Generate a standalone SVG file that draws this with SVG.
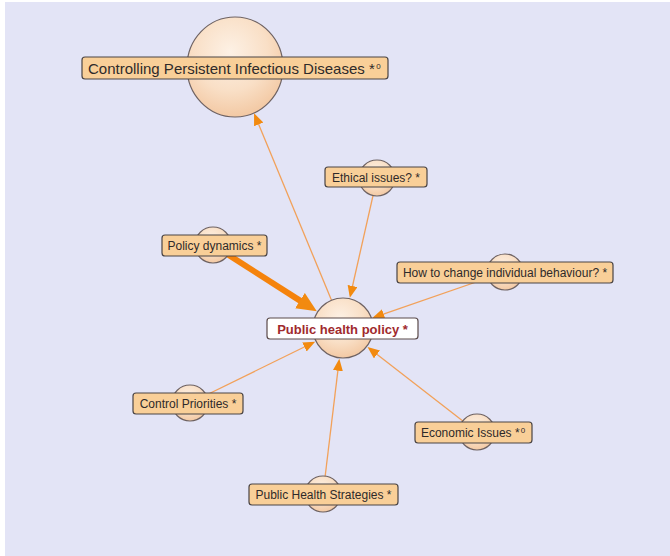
<svg xmlns="http://www.w3.org/2000/svg" width="670" height="556" viewBox="0 0 670 556">
  <defs>
    <radialGradient id="ball" cx="45%" cy="35%" r="65%">
      <stop offset="0" stop-color="#fdf1e5"/>
      <stop offset="0.6" stop-color="#f9dfc6"/>
      <stop offset="1" stop-color="#f3c9a4"/>
    </radialGradient>
    <marker id="arr" markerUnits="userSpaceOnUse" markerWidth="13" markerHeight="11" refX="1" refY="5" orient="auto">
      <path d="M0,0 L12,5 L0,10 z" fill="#f28a10"/>
    </marker>
    <marker id="arrBig" markerUnits="userSpaceOnUse" markerWidth="21" markerHeight="19" refX="1" refY="9" orient="auto">
      <path d="M0,0 L20,9 L0,18 z" fill="#f28a10"/>
    </marker>
    <style>
      .ball { fill: url(#ball); stroke: #6e6262; stroke-width: 1.2; }
      .tag { fill: #f9cf98; stroke: #4a4444; stroke-width: 1.2; }
      .lbl { font-family: "Liberation Sans", Arial, sans-serif; font-size: 12px; fill: #2e2a2a; text-anchor: middle; }
      .big { font-size: 15px; text-anchor: start; }
      .sup { font-size: 8px; }
      .link { stroke: #f2a15a; stroke-width: 1.3; fill: none; marker-end: url(#arr); }
    </style>
  </defs>

  <!-- canvas -->
  <rect x="0" y="0" width="670" height="556" fill="#ffffff"/>
  <rect x="5" y="2" width="665" height="554" fill="#e3e4f6"/>

  <!-- connectors -->
  <g id="connectors">
    <line class="link" x1="343" y1="328" x2="258.3" y2="123.4"/>
    <line class="link" x1="377" y1="178" x2="352.3" y2="287.0"/>
    <line x1="213" y1="245" x2="300.8" y2="301.1" stroke="#f5830c" stroke-width="6" marker-end="url(#arrBig)"/>
    <line class="link" x1="505" y1="272" x2="382.7" y2="314.3"/>
    <line class="link" x1="190" y1="403" x2="305.3" y2="346.5"/>
    <line class="link" x1="477" y1="432" x2="376.2" y2="353.8" stroke="#f0903a" stroke-width="2"/>
    <line class="link" x1="323" y1="494" x2="338.0" y2="369.7"/>
  </g>

  <!-- nodes -->
  <g id="node-controlling">
    <ellipse class="ball" cx="235" cy="67" rx="48" ry="50"/>
    <rect class="tag" x="82" y="57" width="306" height="22" rx="3"/>
    <text class="lbl big" x="88" y="73.5">Controlling Persistent Infectious Diseases *<tspan class="sup" dx="1.5" dy="-5">0</tspan></text>
  </g>

  <g id="node-ethical">
    <circle class="ball" cx="377" cy="178" r="18"/>
    <rect class="tag" x="325" y="167" width="102" height="20" rx="3"/>
    <text class="lbl" x="376" y="181.5">Ethical issues? *</text>
  </g>

  <g id="node-policy-dynamics">
    <circle class="ball" cx="213" cy="245" r="18"/>
    <rect class="tag" x="162" y="235" width="105" height="21" rx="3"/>
    <text class="lbl" x="214.5" y="250">Policy dynamics *</text>
  </g>

  <g id="node-behaviour">
    <circle class="ball" cx="505" cy="272" r="18"/>
    <rect class="tag" x="397" y="262" width="216" height="21" rx="3"/>
    <text class="lbl" x="505" y="277">How to change individual behaviour? *</text>
  </g>

  <g id="node-public-health-policy">
    <circle class="ball" cx="343" cy="328" r="30"/>
    <rect x="267" y="318" width="151" height="21" rx="3" fill="#ffffff" stroke="#5a4a4a" stroke-width="1.2"/>
    <text class="lbl" x="342.5" y="333.5" style="font-weight:bold;font-size:13px;fill:#a02a2e">Public health policy *</text>
  </g>

  <g id="node-control-priorities">
    <circle class="ball" cx="190" cy="403" r="18"/>
    <rect class="tag" x="133" y="393" width="110" height="21" rx="3"/>
    <text class="lbl" x="188" y="408">Control Priorities *</text>
  </g>

  <g id="node-economic">
    <circle class="ball" cx="477" cy="432" r="18"/>
    <rect class="tag" x="415" y="422" width="117" height="21" rx="3"/>
    <text class="lbl" x="473" y="437">Economic Issues *<tspan class="sup" dx="1" dy="-4">0</tspan></text>
  </g>

  <g id="node-strategies">
    <circle class="ball" cx="323" cy="494" r="18"/>
    <rect class="tag" x="249" y="484" width="149" height="21" rx="3"/>
    <text class="lbl" x="323.5" y="499">Public Health Strategies *</text>
  </g>
</svg>
